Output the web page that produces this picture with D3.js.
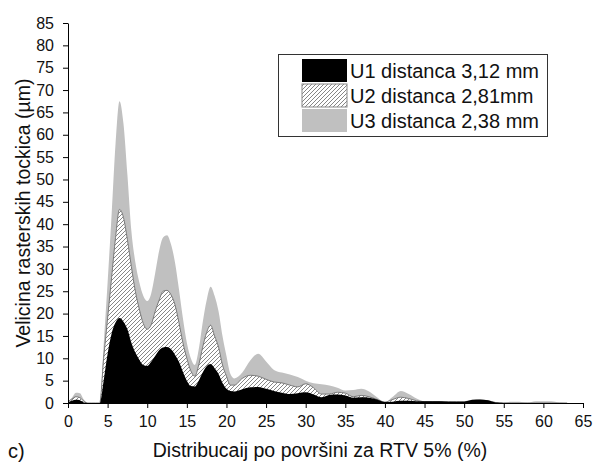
<!DOCTYPE html>
<html><head><meta charset="utf-8">
<script src="https://cdn.jsdelivr.net/npm/d3@7"></script>
<style>
html,body{margin:0;padding:0;background:#fff;}
svg{display:block;font-family:"Liberation Sans",Arial,sans-serif;}
</style></head>
<body>
<svg id="chart" width="595" height="466"></svg>
<script>
const xVals = [0,0.5,1,1.5,2,2.5,3,3.5,4,4.5,5,5.5,6,6.5,7,7.5,8,8.5,9,9.5,10,10.5,11,11.5,12,12.5,13,13.5,14,14.5,15,15.5,16,16.5,17,17.5,18,18.5,19,19.5,20,20.5,21,22,23,24,25,26,27,28,29,30,31,32,33,34,35,36,37,38,39,40,41,42,43,44,45,46,47,48,49,50,51,52,53,54,55,56,57,58,59,60,61,62,63];
const u1 = [0.2,0.5,0.7,0.6,0.1,0,0,0,0,5,11,15.5,18,19,18.2,16.5,13.5,11.3,9.7,8.5,8.3,9.2,10.5,11.8,12.4,12.5,12,10.8,9.2,7,5,3.8,3.7,5,6.8,8.2,8.7,7.8,6.5,4.5,3.2,2.7,2.6,3.1,3.5,3.6,3.2,2.7,2.3,2.0,2.2,2.4,1.9,1.3,1.8,1.9,1.7,1.2,1.3,1.2,0.8,0.2,0.3,0.5,0.5,0.4,0.4,0.4,0.4,0.3,0.3,0.3,0.7,0.8,0.6,0.1,0,0,0,0,0,0,0,0,0];
const u2 = [0.3,0.9,1.4,1.2,0.4,0,0,0,0,10,19,28,37,43.3,41.5,36.5,30.5,25,21,17.8,16.5,17.5,20.5,23,25,25.2,24.2,22,18,13.5,10,7.2,6,8.5,12.5,15.8,17.4,15,12.5,8.5,6,4,4,5.5,6.2,6,5.3,4.7,4.5,4.0,3.6,4.3,3.4,2.0,2.0,2.4,2.2,1.4,1.7,1.4,0.8,0.2,0.8,1.3,1.0,0.5,0.3,0.3,0.3,0.3,0.3,0.3,0.5,0.6,0.5,0.1,0,0,0,0,0,0,0,0,0];
const u3 = [0.3,1.2,2.3,2.2,0.8,0,0,0,0,13,27,42,58,67.5,62.5,51,38.5,31.5,27,24,22.8,24.5,29,34,37,37.5,35.5,31.5,25.5,19,13.5,10,8.5,12,18,23,26,24,20.5,15,10.5,6.5,5.5,6.8,9.5,11,9.3,7.4,6.8,6.4,5.8,5.0,4.4,4.2,3.9,3.4,2.8,2.9,3.2,2.6,1.3,0.2,1.4,2.7,2.0,1.0,0.4,0.4,0.4,0.4,0.3,0.2,0.5,0.7,0.5,0.1,0.1,0.3,0.3,0.1,0.4,0.4,0.4,0.1,0];
const xTicks = d3.range(0, 66, 5);
const yTicks = d3.range(0, 86, 5);
const seriesNames = ["U1 distanca 3,12 mm","U2 distanca 2,81mm","U3 distanca 2,38 mm"];
const xTitle = "Distribucaij po površini za RTV 5% (%)";
const yTitle = "Velicina rasterskih tockica (µm)";
const panelLabel = "c)";

const svg = d3.select("#chart");
const x = d3.scaleLinear().domain([0,65]).range([68,583]);
const y = d3.scaleLinear().domain([0,85]).range([403,23]);

const defs = svg.append("defs");
const pat = defs.append("pattern").attr("id","hatch").attr("patternUnits","userSpaceOnUse")
  .attr("width",4).attr("height",4);
pat.append("rect").attr("width",4).attr("height",4).attr("fill","#fff");
pat.append("path").attr("d","M-1,1 L1,-1 M0,4 L4,0 M3,5 L5,3")
  .attr("stroke","#707070").attr("stroke-width",0.85);

const mk = vals => xVals.map((xv,i)=>({x:xv,v:vals[i]}));
const area = d3.area().x(d=>x(d.x)).y0(y(0)).y1(d=>y(d.v)).curve(d3.curveMonotoneX);
const line = d3.line().x(d=>x(d.x)).y(d=>y(d.v)).curve(d3.curveMonotoneX);

svg.append("path").datum(mk(u3)).attr("d",area).attr("fill","#c0c0c0");
svg.append("path").datum(mk(u2)).attr("d",area).attr("fill","url(#hatch)");
svg.append("path").datum(mk(u2)).attr("d",line).attr("fill","none").attr("stroke","#7a7a7a").attr("stroke-width",1);
svg.append("path").datum(mk(u1)).attr("d",area).attr("fill","#000");

const xAxis = svg.append("g").attr("transform","translate(0,403)")
  .call(d3.axisBottom(x).tickValues(xTicks).tickSizeInner(5).tickSizeOuter(0).tickPadding(8).tickFormat(d3.format("d")));
const yAxis = svg.append("g").attr("transform","translate(68,0)")
  .call(d3.axisLeft(y).tickValues(yTicks).tickSizeInner(5).tickSizeOuter(0).tickPadding(9).tickFormat(d3.format("d")));
[xAxis,yAxis].forEach(g=>{
  g.selectAll("text").attr("font-size",16).attr("fill","#111").attr("font-family","Liberation Sans, Arial, sans-serif");
  g.selectAll("line").attr("stroke","#000");
  g.select(".domain").attr("stroke","#000");
});

svg.append("text").attr("x",320).attr("y",457).attr("text-anchor","middle")
  .attr("font-size",19.5).attr("fill","#111").text(xTitle);
svg.append("text").attr("transform","translate(30,213) rotate(-90)").attr("text-anchor","middle")
  .attr("font-size",19.5).attr("fill","#111").text(yTitle);
svg.append("text").attr("x",8).attr("y",458).attr("font-size",20).attr("fill","#111").text(panelLabel);

// legend
const lg = svg.append("g");
lg.append("rect").attr("x",278.5).attr("y",54.5).attr("width",269).attr("height",82)
  .attr("fill","#fff").attr("stroke","#333").attr("stroke-width",1);
const fills = ["#000","url(#hatch)","#c0c0c0"];
const rowY = [59,84,109];
seriesNames.forEach((n,i)=>{
  lg.append("rect").attr("x",302).attr("y",rowY[i]).attr("width",45).attr("height",23)
    .attr("fill",fills[i]).attr("stroke", i===1 ? "#888" : "none");
  lg.append("text").attr("x",350).attr("y",rowY[i]+19).attr("font-size",20).attr("fill","#111").text(n);
});
</script>
</body></html>
